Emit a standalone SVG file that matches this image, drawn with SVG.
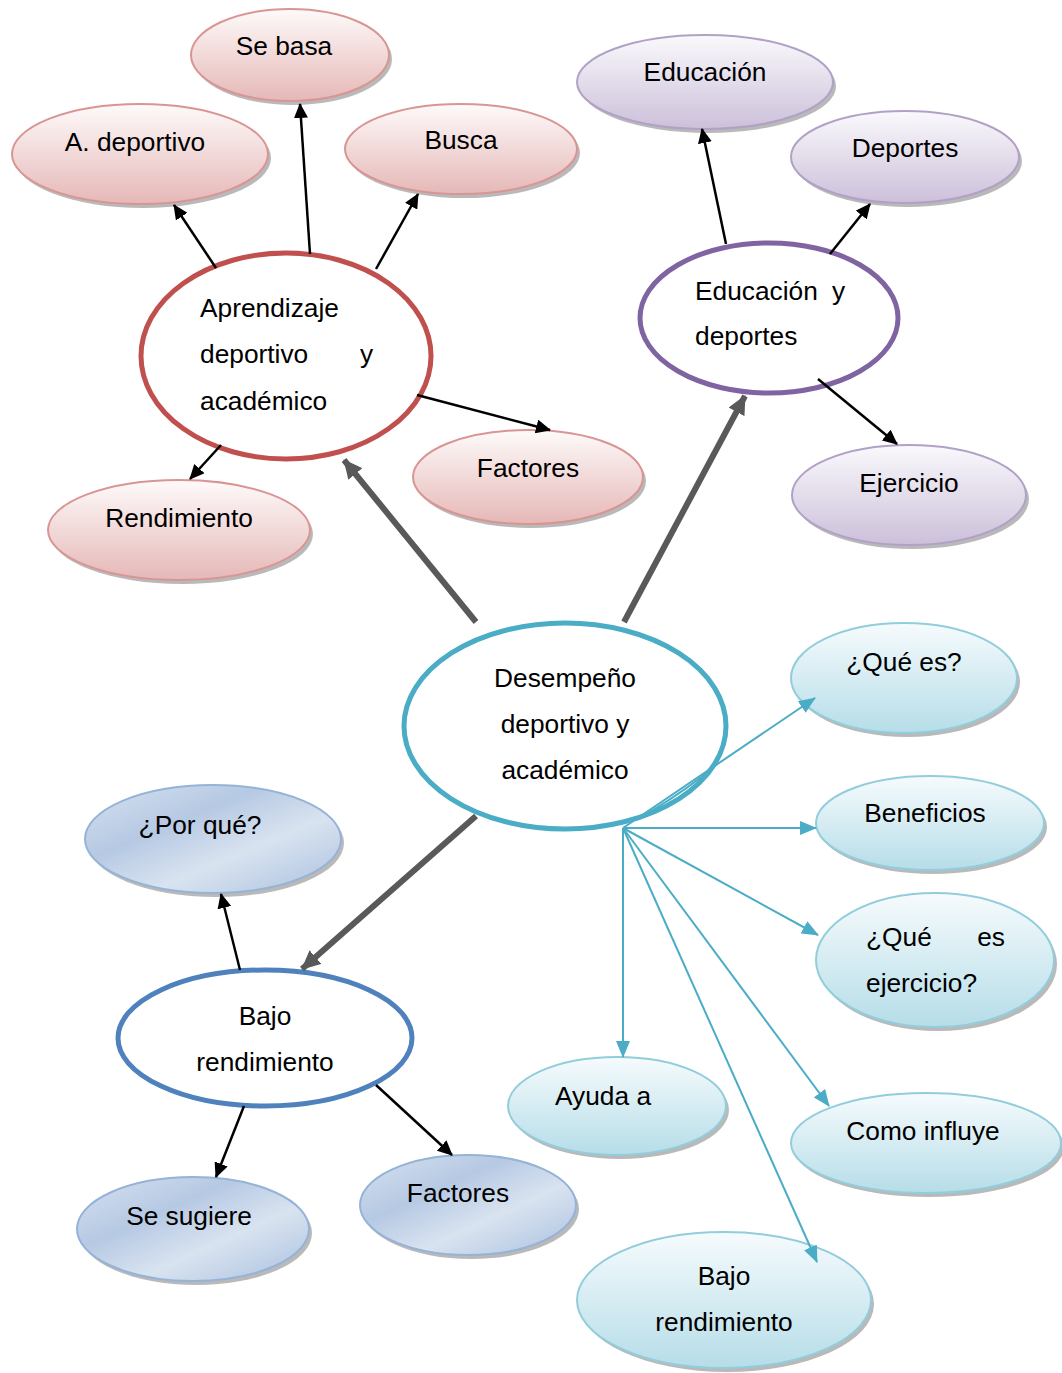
<svg xmlns="http://www.w3.org/2000/svg" width="1062" height="1373" viewBox="0 0 1062 1373">
<defs>
<linearGradient id="gPink" x1="0" y1="0" x2="0" y2="1"><stop offset="0" stop-color="#fefafa"/><stop offset="1" stop-color="#e5b8b7"/></linearGradient>
<linearGradient id="gPurple" x1="0" y1="0" x2="0" y2="1"><stop offset="0" stop-color="#faf9fc"/><stop offset="1" stop-color="#ccc0da"/></linearGradient>
<linearGradient id="gCyan" x1="0" y1="0" x2="0" y2="1"><stop offset="0" stop-color="#f6fbfd"/><stop offset="1" stop-color="#b6dde8"/></linearGradient>
<linearGradient id="gBlue" x1="0" y1="0" x2="1" y2="1"><stop offset="0" stop-color="#d6e1f0"/><stop offset="0.35" stop-color="#b6c9e3"/><stop offset="0.62" stop-color="#d9e3f0"/><stop offset="1" stop-color="#a9c0de"/></linearGradient>
<marker id="aBlack" markerUnits="userSpaceOnUse" markerWidth="16" markerHeight="14" refX="14" refY="7" orient="auto"><path d="M0,0 L15,7 L0,14 Z" fill="#000"/></marker>
<marker id="aGray" markerUnits="userSpaceOnUse" markerWidth="20" markerHeight="18" refX="18" refY="9" orient="auto"><path d="M0,0 L19,9 L0,18 Z" fill="#595959"/></marker>
<marker id="aCyan" markerUnits="userSpaceOnUse" markerWidth="18" markerHeight="14" refX="16" refY="7" orient="auto"><path d="M0,0 L17,7 L0,14 Z" fill="#4bacc6"/></marker>
</defs>
<style>
text{font-family:"Liberation Sans",Arial,sans-serif;font-size:26.3px;fill:#000}
.c{text-anchor:middle}
.sh{fill:#7f7f7f;opacity:0.55}
.pink{fill:url(#gPink);stroke:#d99594;stroke-width:2}
.purple{fill:url(#gPurple);stroke:#b2a1c7;stroke-width:2}
.cyan{fill:url(#gCyan);stroke:#92cddc;stroke-width:2}
.blue{fill:url(#gBlue);stroke:#95b3d7;stroke-width:2}
.main{fill:#fff;stroke-width:5}
.lb{stroke:#000;stroke-width:2.5;fill:none;marker-end:url(#aBlack)}
.lg{stroke:#595959;stroke-width:6;fill:none;marker-end:url(#aGray)}
.lc{stroke:#4bacc6;stroke-width:2;fill:none;marker-end:url(#aCyan)}
</style>
<rect width="1062" height="1373" fill="#fff"/>

<g id="n-sebasa"><ellipse class="sh" cx="293" cy="59" rx="99" ry="46"/><ellipse class="pink" cx="290" cy="55" rx="99" ry="46"/><text class="c" x="284" y="55">Se basa</text></g>
<g id="n-adeportivo"><ellipse class="sh" cx="143" cy="158" rx="128" ry="50"/><ellipse class="pink" cx="140" cy="154" rx="128" ry="50"/><text class="c" x="135" y="151">A. deportivo</text></g>
<g id="n-busca"><ellipse class="sh" cx="464" cy="153" rx="116" ry="45"/><ellipse class="pink" cx="461" cy="149" rx="116" ry="45"/><text class="c" x="461" y="149">Busca</text></g>
<g id="n-factores1"><ellipse class="sh" cx="531" cy="481" rx="115" ry="47"/><ellipse class="pink" cx="528" cy="477" rx="115" ry="47"/><text class="c" x="528" y="477">Factores</text></g>
<g id="n-rendimiento"><ellipse class="sh" cx="182" cy="534" rx="131" ry="50"/><ellipse class="pink" cx="179" cy="530" rx="131" ry="50"/><text class="c" x="179" y="527">Rendimiento</text></g>

<g id="n-educacion"><ellipse class="sh" cx="708" cy="86" rx="128" ry="47"/><ellipse class="purple" cx="705" cy="82" rx="128" ry="47"/><text class="c" x="705" y="81">Educación</text></g>
<g id="n-deportes"><ellipse class="sh" cx="908" cy="161" rx="114" ry="46"/><ellipse class="purple" cx="905" cy="157" rx="114" ry="46"/><text class="c" x="905" y="157">Deportes</text></g>
<g id="n-ejercicio"><ellipse class="sh" cx="912" cy="499" rx="117" ry="50"/><ellipse class="purple" cx="909" cy="495" rx="117" ry="50"/><text class="c" x="909" y="492">Ejercicio</text></g>

<g id="n-quees"><ellipse class="sh" cx="907" cy="682" rx="113" ry="55"/><ellipse class="cyan" cx="904" cy="678" rx="113" ry="55"/><text class="c" x="904" y="671">¿Qué es?</text></g>
<g id="n-beneficios"><ellipse class="sh" cx="933" cy="827" rx="114" ry="47"/><ellipse class="cyan" cx="930" cy="823" rx="114" ry="47"/><text class="c" x="925" y="822">Beneficios</text></g>
<g id="n-queesejercicio"><ellipse class="sh" cx="938" cy="964" rx="119" ry="67"/><ellipse class="cyan" cx="935" cy="960" rx="119" ry="67"/><text x="866" y="946">¿Qué</text><text x="1005" y="946" text-anchor="end">es</text><text x="866" y="992">ejercicio?</text></g>
<g id="n-ayudaa"><ellipse class="sh" cx="620" cy="1110" rx="109" ry="49"/><ellipse class="cyan" cx="617" cy="1106" rx="109" ry="49"/><text class="c" x="603" y="1105">Ayuda a</text></g>
<g id="n-comoinfluye"><ellipse class="sh" cx="929" cy="1147" rx="135" ry="50"/><ellipse class="cyan" cx="926" cy="1143" rx="135" ry="50"/><text class="c" x="923" y="1140">Como influye</text></g>
<g id="n-bajorend2"><ellipse class="sh" cx="727" cy="1304" rx="147" ry="68"/><ellipse class="cyan" cx="724" cy="1300" rx="147" ry="68"/><text class="c" x="724" y="1285">Bajo</text><text class="c" x="724" y="1331">rendimiento</text></g>

<g id="n-porque"><ellipse class="sh" cx="216" cy="843" rx="128" ry="54"/><ellipse class="blue" cx="213" cy="839" rx="128" ry="54"/><text class="c" x="200" y="834">¿Por qué?</text></g>
<g id="n-sesugiere"><ellipse class="sh" cx="196" cy="1233" rx="116" ry="52"/><ellipse class="blue" cx="193" cy="1229" rx="116" ry="52"/><text class="c" x="189" y="1225">Se sugiere</text></g>
<g id="n-factores2"><ellipse class="sh" cx="471" cy="1209" rx="108" ry="50"/><ellipse class="blue" cx="468" cy="1205" rx="108" ry="50"/><text class="c" x="458" y="1202">Factores</text></g>

<g id="n-aprendizaje"><ellipse class="main" stroke="#c0504d" cx="286" cy="356" rx="145" ry="103"/><text x="200" y="317">Aprendizaje</text><text x="200" y="363">deportivo</text><text x="360" y="363">y</text><text x="200" y="410">académico</text></g>
<g id="n-edudep"><ellipse class="main" stroke="#8064a2" cx="769" cy="318" rx="129" ry="75"/><text x="695" y="300">Educación</text><text x="832" y="300">y</text><text x="695" y="345">deportes</text></g>
<g id="n-desempeno"><ellipse class="main" stroke="#4bacc6" cx="565" cy="726" rx="161" ry="103"/><text class="c" x="565" y="687">Desempeño</text><text class="c" x="565" y="733">deportivo y</text><text class="c" x="565" y="779">académico</text></g>
<g id="n-bajorend1"><ellipse class="main" stroke="#4f81bd" cx="265" cy="1038" rx="147" ry="68"/><text class="c" x="265" y="1025">Bajo</text><text class="c" x="265" y="1071">rendimiento</text></g>

<g id="connectors">
<line class="lb" x1="216" y1="268" x2="174" y2="205"/>
<line class="lb" x1="310" y1="254" x2="300" y2="104"/>
<line class="lb" x1="376" y1="269" x2="418" y2="194"/>
<line class="lb" x1="417" y1="395" x2="550" y2="430"/>
<line class="lb" x1="221" y1="445" x2="190" y2="479"/>
<line class="lb" x1="726" y1="244" x2="702" y2="129"/>
<line class="lb" x1="830" y1="254" x2="870" y2="204"/>
<line class="lb" x1="818" y1="379" x2="897" y2="444"/>
<line class="lb" x1="240" y1="970" x2="221" y2="894"/>
<line class="lb" x1="244" y1="1106" x2="216" y2="1177"/>
<line class="lb" x1="376" y1="1085" x2="452" y2="1155"/>
<line class="lg" x1="476" y1="622" x2="344" y2="460"/>
<line class="lg" x1="624" y1="622" x2="745" y2="396"/>
<line class="lg" x1="476" y1="816" x2="302" y2="969"/>
<path class="lc" d="M623,828 L815,698"/>
<path d="M648,813 Q690,788 717,764" stroke="#4bacc6" stroke-width="2" fill="none"/>
<line class="lc" x1="623" y1="828" x2="816" y2="828"/>
<line class="lc" x1="623" y1="828" x2="818" y2="935"/>
<line class="lc" x1="623" y1="828" x2="623" y2="1057"/>
<line class="lc" x1="623" y1="828" x2="829" y2="1106"/>
<line class="lc" x1="623" y1="828" x2="817" y2="1262"/>
</g>
</svg>
